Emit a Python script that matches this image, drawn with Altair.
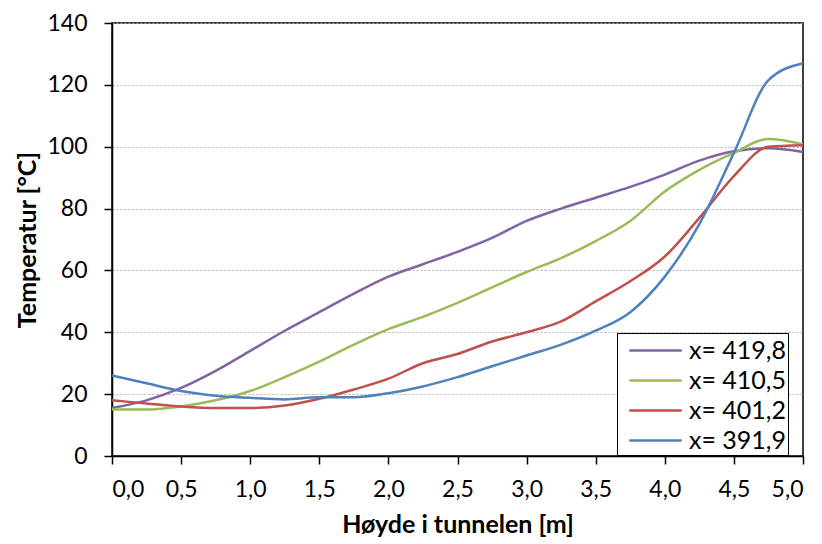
import altair as alt
import pandas as pd

heights = [0.0, 0.25, 0.5, 0.75, 1.0, 1.25, 1.5, 1.75, 2.0, 2.25, 2.5, 2.75,
           3.0, 3.25, 3.5, 3.75, 4.0, 4.25, 4.5, 4.75, 5.0]

t_419_8 = [15.5, 18, 22, 27.5, 34, 40.5, 46.5, 52.5, 58, 62, 66, 70.5,
           76, 80, 83.5, 87, 91, 95.5, 98.5, 99.5, 98.3]
t_410_5 = [15, 15, 16, 18, 21, 25.5, 30.5, 36, 41, 45, 49.5, 54.5,
           59.5, 64, 69.5, 76, 85.5, 92.5, 98, 102.5, 100.8]
t_401_2 = [18, 17, 16, 15.5, 15.5, 16.3, 18.5, 21.5, 25, 30, 33, 37,
           40, 43.5, 50, 56.5, 64.5, 77, 90.5, 100, 100.5]
t_391_9 = [26, 23.5, 21, 19.5, 18.8, 18.3, 19, 19, 20.3, 22.5, 25.5, 29,
           32.5, 36, 40.5, 46.5, 58, 75, 98, 121.5, 127]

series_names = ["x= 419,8", "x= 410,5", "x= 401,2", "x= 391,9"]
series_colors = ["#8064A2", "#9BBB59", "#C0504D", "#4F81BD"]

rows = []
for name, vals in zip(series_names, [t_419_8, t_410_5, t_401_2, t_391_9]):
    for h, v in zip(heights, vals):
        rows.append({"h": h, "T": v, "serie": name})
df = pd.DataFrame(rows)

FONT = "Lato"

chart = alt.Chart(df).mark_line(interpolate="monotone", strokeWidth=2.5).encode(
    x=alt.X("h:Q", scale=alt.Scale(domain=[0, 5], nice=False),
            axis=alt.Axis(title="Høyde i tunnelen [m]",
                          values=[0, 0.5, 1, 1.5, 2, 2.5, 3, 3.5, 4, 4.5, 5],
                          labelExpr="replace(format(datum.value, '.1f'), '.', ',')",
                          grid=False, tickSize=8, labelPadding=14,
                          titlePadding=11)),
    y=alt.Y("T:Q", scale=alt.Scale(domain=[0, 140], nice=False),
            axis=alt.Axis(title="Temperatur [°C]",
                          values=[0, 20, 40, 60, 80, 100, 120, 140],
                          grid=True, tickSize=8, labelPadding=17,
                          titlePadding=6)),
    color=alt.Color("serie:N",
                    scale=alt.Scale(domain=series_names, range=series_colors),
                    legend=alt.Legend(title=None, orient="none",
                                      legendX=505, legendY=310,
                                      symbolType="M-1.75,0H1.75",
                                      symbolSize=900,
                                      symbolStrokeWidth=2.5,
                                      symbolOffset=21,
                                      labelOffset=17,
                                      labelFontSize=25, labelFont=FONT,
                                      labelColor="#000000",
                                      rowPadding=0, padding=1,
                                      strokeColor="#000000",
                                      fillColor="#ffffff")),
).properties(
    width=691, height=433,
    autosize=alt.AutoSizeParams(type="none"),
    padding={"left": 112, "top": 23, "right": 19, "bottom": 88},
).configure_view(
    stroke="#000000", strokeWidth=1.5
).configure_axis(
    domainColor="#000000", domainWidth=1.5,
    tickColor="#000000", tickWidth=1.5,
    labelFont=FONT, labelFontSize=23, labelColor="#000000",
    titleFont=FONT, titleFontSize=25, titleFontWeight="bold", titleColor="#000000",
    gridColor="#b0b0b0", gridDash=[2, 2], gridWidth=1,
)

chart.save("out.html", embed_options={"renderer": "svg", "actions": False})
